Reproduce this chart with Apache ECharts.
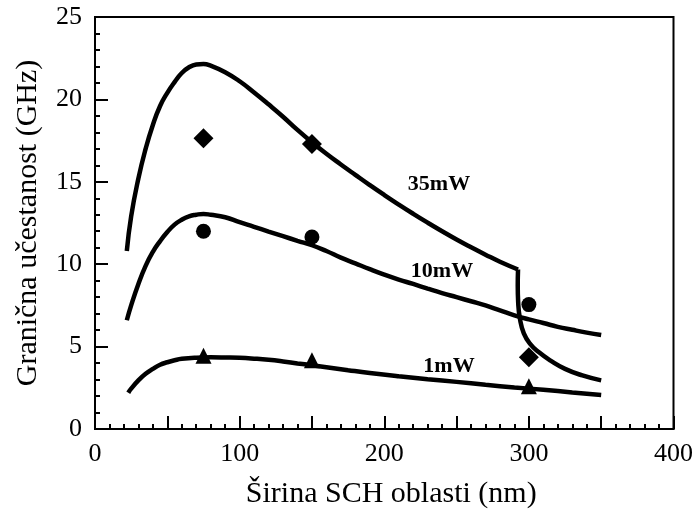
<!DOCTYPE html>
<html>
<head>
<meta charset="utf-8">
<script src="https://cdn.jsdelivr.net/npm/echarts@6/dist/echarts.min.js"></script>
<style>html,body{margin:0;padding:0;background:#fff}#c{width:696px;height:514px}</style>
</head>
<body>
<div id="c"></div>
<script>
// Curves (x = SCH width nm, y = cutoff frequency GHz)
var curve35a = [[22,10.8],[25,12.9],[30,15.2],[35,17.0],[40,18.45],[45,19.6],[50,20.4],[55,21.05],[60,21.6],[65,21.95],[70,22.12],[75,22.15],[80,22.05],[90,21.65],[100,21.1],[110,20.42],[120,19.7],[130,18.95],[140,18.15],[150,17.4],[160,16.7],[170,16.05],[180,15.42],[190,14.8],[200,14.2],[210,13.62],[220,13.06],[230,12.52],[240,12.0],[250,11.5],[260,11.03],[270,10.58],[280,10.15],[292.5,9.68]];
var curve35b = [[292.5,9.68],[292.3,8.7],[292.6,7.7],[293.8,6.7],[296.5,5.8],[301,5.15],[307,4.65],[315,4.15],[325,3.65],[337,3.25],[350,2.95]];
var curve10 = [[22,6.6],[25,7.5],[30,8.8],[35,9.9],[40,10.75],[45,11.4],[50,11.95],[55,12.4],[60,12.7],[65,12.9],[70,13.0],[75,13.05],[80,13.0],[90,12.85],[100,12.55],[110,12.27],[120,11.98],[130,11.7],[140,11.42],[150,11.15],[160,10.8],[170,10.4],[180,10.05],[190,9.7],[200,9.37],[210,9.07],[220,8.8],[230,8.52],[240,8.25],[250,8.0],[260,7.75],[270,7.5],[280,7.2],[290,6.9],[300,6.65],[310,6.43],[320,6.2],[330,6.02],[340,5.85],[350,5.7]];
var curve1 = [[23,2.2],[25,2.45],[30,2.95],[35,3.35],[40,3.65],[45,3.9],[50,4.05],[55,4.17],[60,4.26],[70,4.33],[80,4.35],[90,4.34],[100,4.32],[110,4.27],[120,4.2],[130,4.1],[140,3.98],[150,3.87],[160,3.75],[175,3.57],[190,3.4],[210,3.2],[230,3.02],[250,2.86],[270,2.68],[290,2.52],[310,2.38],[330,2.22],[350,2.07]];
// Measured points
var pts35 = [[75,17.65],[150,17.3],[300,4.35]];
var pts10 = [[75,12.0],[150,11.65],[300,7.55]];
var pts1 = [[75,4.45],[150,4.17],[300,2.6]];
var curveLabels = ['35mW','10mW','1mW'];
var xTitle = 'Širina SCH oblasti (nm)';
var yTitle = 'Granična učestanost (GHz)';

var chart = echarts.init(document.getElementById('c'), null, {renderer:'canvas'});
var FONT = '"Liberation Serif", "Times New Roman", serif';
var lineStyle = {color:'#000', width:4.5};
function curve(d){return {type:'line', data:d, showSymbol:false, smooth:0.5, lineStyle:lineStyle, z:2, silent:true};}
function pts(d, sym, size){return {type:'scatter', data:d, symbol:sym, symbolSize:size, itemStyle:{color:'#000', opacity:1}, z:3};}
var axisCommon = {
  axisLine:{show:true, lineStyle:{color:'#000', width:2}},
  axisTick:{show:true, inside:true, length:13, lineStyle:{color:'#000', width:2}},
  minorTick:{show:true, splitNumber:5, length:5, lineStyle:{color:'#000', width:2}},
  splitLine:{show:false},
  nameLocation:'middle'
};
chart.setOption({
  animation:false,
  backgroundColor:'#fff',
  grid:{left:95, top:17, right:21, bottom:83, show:true, borderColor:'#000', borderWidth:2},
  xAxis:Object.assign({type:'value', min:0, max:400, interval:50, name:xTitle, nameGap:50,
    nameTextStyle:{fontFamily:FONT, fontSize:30, color:'#000', padding:[0,0,0,14]},
    axisLabel:{fontFamily:FONT, fontSize:26, color:'#000', margin:12, formatter:function(v){return v%100===0?String(v):'';}}}, axisCommon),
  yAxis:Object.assign({type:'value', min:0, max:25, interval:5, name:yTitle, nameGap:52,
    nameTextStyle:{fontFamily:FONT, fontSize:30, color:'#000'},
    axisLabel:{fontFamily:FONT, fontSize:26, color:'#000', margin:13}}, axisCommon),
  graphic:[
    {type:'text', x:439, y:184, style:{text:curveLabels[0], font:'bold 22px "Liberation Serif"', fill:'#000', textAlign:'center', textVerticalAlign:'middle'}},
    {type:'text', x:442, y:271, style:{text:curveLabels[1], font:'bold 22px "Liberation Serif"', fill:'#000', textAlign:'center', textVerticalAlign:'middle'}},
    {type:'text', x:449, y:366, style:{text:curveLabels[2], font:'bold 22px "Liberation Serif"', fill:'#000', textAlign:'center', textVerticalAlign:'middle'}}
  ],
  series:[
    curve(curve35a), curve(curve35b), curve(curve10), curve(curve1),
    pts(pts35,'diamond',20), pts(pts10,'circle',15), pts(pts1,'triangle',16)
  ]
});
</script>
</body>
</html>
